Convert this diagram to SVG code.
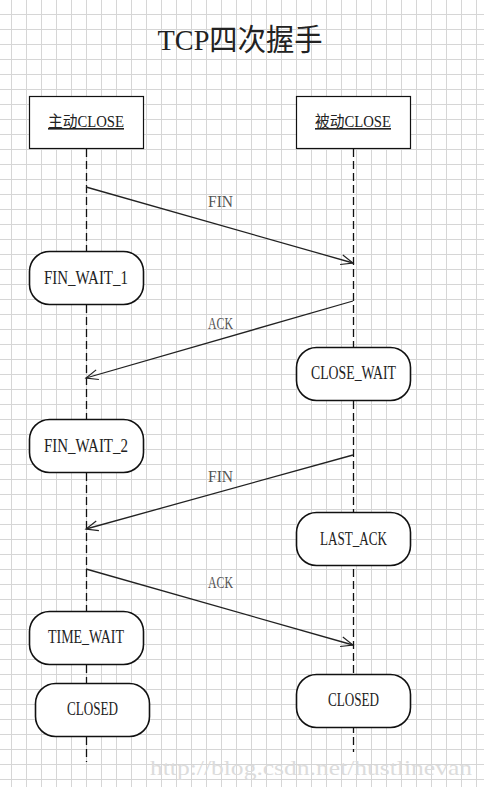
<svg xmlns="http://www.w3.org/2000/svg" width="484" height="787" viewBox="0 0 484 787">
<defs>
<pattern id="grid" x="11" y="14" width="15" height="15" patternUnits="userSpaceOnUse">
<path d="M0.5 0V15M0 0.5H15" stroke="#d6d6d6" stroke-width="1" fill="none"/>
</pattern>
<marker id="arr" markerUnits="userSpaceOnUse" markerWidth="16" markerHeight="14" refX="14" refY="7" orient="auto">
<path d="M2,2 L14,7 L2,12" fill="none" stroke="#222" stroke-width="1.2"/>
</marker>
<style>
.life{stroke:#111;stroke-width:1.3;stroke-dasharray:8 4;fill:none}
.msg{stroke:#222;stroke-width:1.3;fill:none;marker-end:url(#arr)}
.head{fill:#fff;stroke:#111;stroke-width:1.2}
.state{fill:#fff;stroke:#111;stroke-width:1.6}
.t{font-family:"Liberation Serif","Noto Sans CJK SC",serif;fill:#222;text-anchor:middle}
.st{font-size:19px}
.lbl{font-size:16px;fill:#555}
</style>
</defs>
<rect width="484" height="787" fill="#fff"/>
<rect width="484" height="787" fill="url(#grid)"/>
<text class="t" x="240" y="50" font-size="30" textLength="165" lengthAdjust="spacingAndGlyphs" fill="#111">TCP四次握手</text>
<g id="lifelines">
<line class="life" x1="86.5" y1="149" x2="86.5" y2="762"/>
<line class="life" x1="353.5" y1="149" x2="353.5" y2="752"/>
</g>
<g id="actor-active">
<rect class="head" x="29.5" y="96.5" width="114" height="52"/>
<text class="t" x="86" y="127" font-size="16" textLength="76" lengthAdjust="spacingAndGlyphs" text-decoration="underline">主动CLOSE</text>
</g>
<g id="actor-passive">
<rect class="head" x="296.5" y="96.5" width="114" height="52"/>
<text class="t" x="353" y="127" font-size="16" textLength="76" lengthAdjust="spacingAndGlyphs" text-decoration="underline">被动CLOSE</text>
</g>
<g id="connectors">
<line class="msg" x1="86" y1="187" x2="353" y2="263"/>
<line class="msg" x1="353" y1="301" x2="86" y2="378"/>
<line class="msg" x1="353" y1="455" x2="86" y2="529"/>
<line class="msg" x1="86" y1="569" x2="353" y2="645"/>
<text class="t lbl" x="220.5" y="207" textLength="25" lengthAdjust="spacingAndGlyphs">FIN</text>
<text class="t lbl" x="220.5" y="329" textLength="25" lengthAdjust="spacingAndGlyphs">ACK</text>
<text class="t lbl" x="220.5" y="482" textLength="25" lengthAdjust="spacingAndGlyphs">FIN</text>
<text class="t lbl" x="220.5" y="588" textLength="25" lengthAdjust="spacingAndGlyphs">ACK</text>
</g>
<g id="fin-wait-1">
<rect class="state" x="29.5" y="251.5" width="114" height="53" rx="20"/>
<text class="t st" x="86" y="284" textLength="84" lengthAdjust="spacingAndGlyphs">FIN_WAIT_1</text>
</g>
<g id="close-wait">
<rect class="state" x="296.5" y="347.5" width="114" height="53" rx="20"/>
<text class="t st" x="353.5" y="379" textLength="85" lengthAdjust="spacingAndGlyphs">CLOSE_WAIT</text>
</g>
<g id="fin-wait-2">
<rect class="state" x="29.5" y="419.5" width="114" height="53" rx="20"/>
<text class="t st" x="86" y="452" textLength="84" lengthAdjust="spacingAndGlyphs">FIN_WAIT_2</text>
</g>
<g id="last-ack">
<rect class="state" x="296.5" y="512.5" width="114" height="53" rx="20"/>
<text class="t st" x="353.5" y="545" textLength="67" lengthAdjust="spacingAndGlyphs">LAST_ACK</text>
</g>
<g id="time-wait">
<rect class="state" x="29.5" y="611.5" width="114" height="53" rx="20"/>
<text class="t st" x="86" y="643" textLength="76" lengthAdjust="spacingAndGlyphs">TIME_WAIT</text>
</g>
<g id="closed-active">
<rect class="state" x="35.5" y="683.5" width="114" height="53" rx="20"/>
<text class="t st" x="92.5" y="715" textLength="51" lengthAdjust="spacingAndGlyphs">CLOSED</text>
</g>
<g id="closed-passive">
<rect class="state" x="296.5" y="674.5" width="114" height="53" rx="20"/>
<text class="t st" x="353.5" y="706" textLength="51" lengthAdjust="spacingAndGlyphs">CLOSED</text>
</g>
<text x="150" y="775" font-family="'Liberation Serif',serif" font-size="22" fill="#dcdcdc" textLength="322" lengthAdjust="spacingAndGlyphs">http://blog.csdn.net/hustlinevan</text>
</svg>
